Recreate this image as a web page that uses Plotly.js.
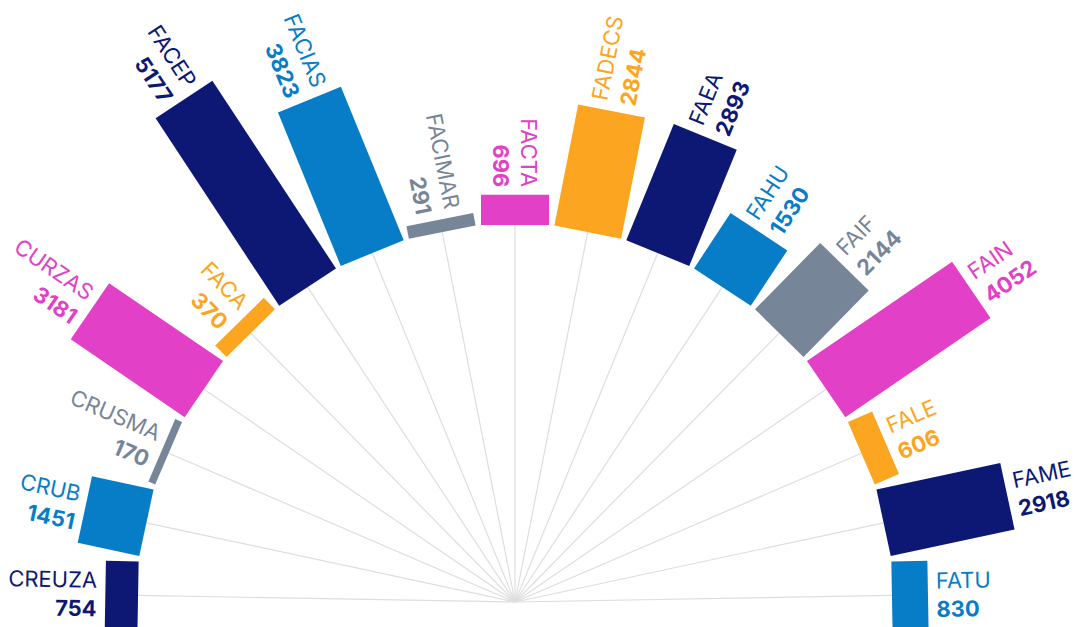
<!DOCTYPE html>
<html>
<head>
<meta charset="utf-8">
<script src="https://cdn.plot.ly/plotly-3.0.1.min.js"></script>
<style>
  html, body { margin: 0; padding: 0; overflow: hidden; background: #fff; width: 1075px; height: 627px; }
  #chart { position: absolute; left: -105px; top: -18px; width: 1240px; height: 1240px; }
</style>
</head>
<body>
<div id="chart"></div>
<script>
let units = ['CREUZA','CRUB','CRUSMA','CURZAS','FACA','FACEP','FACIAS','FACIMAR','FACTA',
             'FADECS','FAEA','FAHU','FAIF','FAIN','FALE','FAME','FATU']
let students = [754,1451,170,3181,370,5177,3823,291,696,2844,2893,1530,2144,4052,606,2918,830]
let palette = ['#0c1873','#077dc8','#768698','#e340c8','#fca521']

// geometry ---------
let size = 1240          // chart div is square, polar fills it
let pxPerUnit = 0.0434
let holePx = 377
let hole = holePx / pxPerUnit
let rMax = (size/2 - holePx) / pxPerUnit
let barPx = 68
let startAngle = 179
let step = 11.125
let fontSize = 22
let fontName = 'Inter'
let fontFamily = 'Inter, Roboto, sans-serif'

let angles = units.map((u, i) => startAngle - i*step)
let colors = units.map((u, i) => palette[i % palette.length])

let ctx = document.createElement('canvas').getContext('2d')
let textWidth = function(t, weight) {
  ctx.font = weight + ' ' + fontSize + 'px ' + fontName
  return ctx.measureText(t).width
}

// spokes from centre to bar base
let spokeR = []
let spokeT = []
for(let i=0; i<units.length; i++) {
  spokeR.push(-hole, 0, null)
  spokeT.push(angles[i], angles[i], null)
}

let data = [{
  type: 'scatterpolar', mode: 'lines',
  r: spokeR, theta: spokeT,
  line: {color: '#dedede', width: 1.2},
  hoverinfo: 'skip', showlegend: false
}]

for(let i=0; i<units.length; i++) {
  data.push({
    type: 'scatterpolar', mode: 'lines',
    r: [0, students[i]], theta: [angles[i], angles[i]],
    line: {color: colors[i], width: barPx},
    hoverinfo: 'skip', showlegend: false
  })
}

// empty trace so the overlay axes exist for the labels
data.push({type: 'scatter', x: [], y: [], xaxis: 'x', yaxis: 'y', showlegend: false, hoverinfo: 'skip'})

let annotations = []
let pad = 8
for(let i=0; i<units.length; i++) {
  let th = angles[i] * Math.PI / 180
  let blockW = Math.max(textWidth(units[i], 400), textWidth(String(students[i]), 700))
  let d = hole + students[i] + (pad + blockW/2) / pxPerUnit
  let inward = angles[i] >= 89.99
  annotations.push({
    xref: 'x', yref: 'y',
    x: d*Math.cos(th), y: d*Math.sin(th),
    xanchor: 'center', yanchor: 'middle',
    showarrow: false,
    text: units[i] + '<br><b>' + students[i] + '</b>',
    align: inward ? 'right' : 'left',
    textangle: inward ? 180 - angles[i] : -angles[i],
    font: {family: fontFamily, size: fontSize, color: colors[i]}
  })
}

let half = size/2 / pxPerUnit
let layout = {
  width: size, height: size,
  margin: {l: 0, r: 0, t: 0, b: 0},
  paper_bgcolor: '#fff',
  showlegend: false,
  polar: {
    domain: {x: [0, 1], y: [0, 1]},
    bgcolor: 'rgba(0,0,0,0)',
    radialaxis: {visible: false, range: [-hole, rMax]},
    angularaxis: {visible: false}
  },
  xaxis: {domain: [0, 1], range: [-half, half], visible: false, fixedrange: true},
  yaxis: {domain: [0, 1], range: [-half, half], visible: false, fixedrange: true},
  annotations: annotations
}

Plotly.newPlot('chart', data, layout, {displayModeBar: false, staticPlot: true})
</script>
</body>
</html>
